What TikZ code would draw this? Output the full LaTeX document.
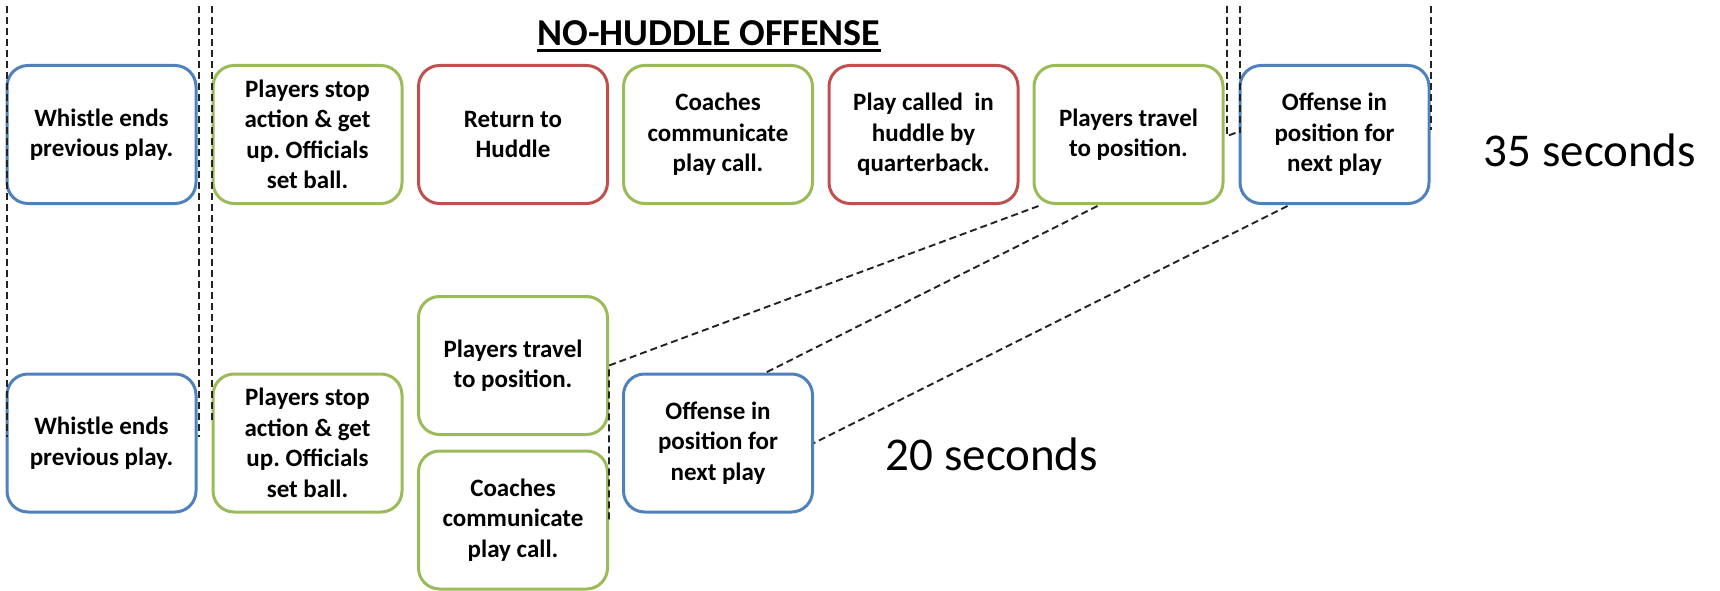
\documentclass[tikz,border=0pt]{standalone}
\usepackage{fontspec}
\setmainfont{Carlito}
\usetikzlibrary{calc}
\definecolor{boxblue}{RGB}{79,129,189}
\definecolor{boxgreen}{RGB}{155,187,89}
\definecolor{boxred}{RGB}{192,80,77}
\definecolor{guide}{RGB}{35,35,35}
\frenchspacing
\begin{document}
\begin{tikzpicture}[x=1pt,y=-1pt,
  stepcard/.style={draw, line width=3pt, rounded corners=21pt,
    minimum width=189pt, minimum height=138pt, inner sep=0pt,
    align=center, font=\bfseries\fontsize{25}{30.5}\selectfont},
  bluecard/.style={stepcard, draw=boxblue},
  greencard/.style={stepcard, draw=boxgreen},
  redcard/.style={stepcard, draw=boxred},
  divider/.style={draw=guide, line width=1.9pt, dash pattern=on 7pt off 4pt},
  link/.style={draw=guide, line width=1.9pt, dash pattern=on 7pt off 4pt},
  timing/.style={font=\fontsize{47}{56}\selectfont, inner sep=0pt}]
\useasboundingbox (0,0) rectangle (1720,591);

% title
\node[font=\bfseries\fontsize{38}{45}\selectfont, inner sep=0pt, anchor=base]
  (title) at (709,46) {NO-HUDDLE OFFENSE};
\draw[line width=3pt] ($(title.base west)+(0,5)$) -- ($(title.base east)+(0,5)$);

% standard huddle sequence
\node[bluecard]  (t1) at (101.5,134.5) {Whistle ends\\previous play.};
\node[greencard] (t2) at (307.5,134.5) {Players stop\\action \& get\\up. Officials\\set ball.};
\node[redcard]   (t3) at (513,134.5)   {Return to\\Huddle};
\node[greencard] (t4) at (718,134.5)   {Coaches\\communicate\\play call.};
\node[redcard]   (t5) at (923.5,134.5) {Play called \ in\\huddle by\\quarterback.};
\node[greencard] (t6) at (1128.5,134.5) {Players travel\\to position.};
\node[bluecard]  (t7) at (1334.5,134.5) {Offense in\\position for\\next play};
\node[timing] (sec35) at (1590,150) {35 seconds};

% no-huddle sequence
\node[bluecard]  (b1) at (101.5,443)  {Whistle ends\\previous play.};
\node[greencard] (b2) at (307.5,443)  {Players stop\\action \& get\\up. Officials\\set ball.};
\node[greencard] (b3) at (513,365.5)  {Players travel\\to position.};
\node[greencard] (b4) at (513,520)    {Coaches\\communicate\\play call.};
\node[bluecard]  (b5) at (718,443)    {Offense in\\position for\\next play};
\node[timing] (sec20) at (992,454) {20 seconds};

% vertical timing guides
\coordinate (g1a) at (7,6);    \coordinate (g1b) at (7,437);
\coordinate (g2a) at (199,6);  \coordinate (g2b) at (199,437);
\coordinate (g3a) at (212,6);  \coordinate (g3b) at (212,423);
\coordinate (g4a) at (1227,6); \coordinate (g4b) at (1227,136); \coordinate (g4c) at (1238,132);
\coordinate (g5a) at (1240,6); \coordinate (g5b) at (1240,133);
\coordinate (g6a) at (1431,6); \coordinate (g6b) at (1431,130);
\draw[divider] (g1a) -- (g1b);
\draw[divider] (g2a) -- (g2b);
\draw[divider] (g3a) -- (g3b);
\draw[divider] (g4a) -- (g4b) -- (g4c);
\draw[divider] (g5a) -- (g5b);
\draw[divider] (g6a) -- (g6b);

% links between the two sequences
\draw[link] ($(t6.south west)+(6,1)$) -- (b3.east) -- (b4.east);
\draw[link] ($(t6.south)+(-31,1)$) -- ($(b5.north)+(48,0)$);
\draw[link] ($(t7.south)+(-47,1)$) -- (b5.east);
\end{tikzpicture}
\end{document}
